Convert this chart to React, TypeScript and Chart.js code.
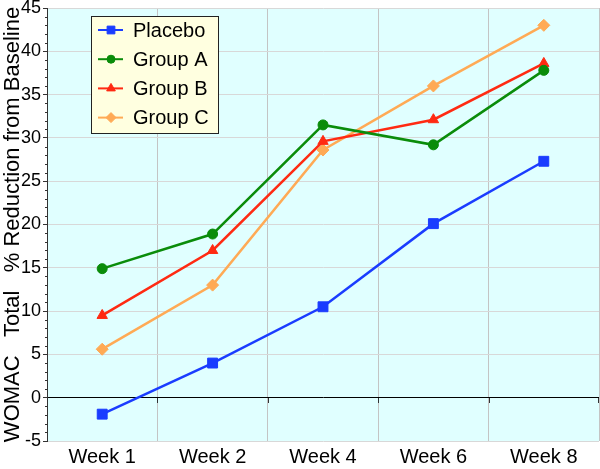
import React, { useEffect, useRef } from "react";
import { Chart, registerables } from "chart.js";
import { drawPoint } from "chart.js/helpers";
Chart.register(...registerables);

const categories = ["Week 1", "Week 2", "Week 4", "Week 6", "Week 8"];
const seriesNames = ["Placebo", "Group A", "Group B", "Group C"];
const placebo = [-1.9, 4.0, 10.5, 20.1, 27.3];
const groupA = [14.9, 18.9, 31.5, 29.2, 37.8];
const groupB = [9.5, 17.0, 29.6, 32.1, 38.6];
const groupC = [5.6, 13.0, 28.6, 36.0, 43.0];
const yTitle = "WOMAC   Total   % Reduction from Baseline";
const yMin = -5;
const yMax = 45;
const yStep = 5;

const colors = ["#1a3cff", "#0a8c0a", "#ff2a12", "#ffaa55"];
const pointStyles = ["rect", "circle", "triangle", "rectRot"];
const pointRadii = [7, 5, 6, 6];
const legendRadii = [5.5, 4, 5, 5];
const FONT = "'Liberation Sans', Arial, Helvetica, sans-serif";

const decorPlugin = {
  id: "decor",
  beforeDraw(chart: any) {
    const { ctx, chartArea: a } = chart;
    ctx.save();
    ctx.fillStyle = "#e0ffff";
    ctx.fillRect(a.left, a.top, a.right - a.left, a.bottom - a.top);
    ctx.restore();
  },
  afterDraw(chart: any) {
    const { ctx, chartArea: a, scales } = chart;
    const y = scales.y;
    const x = scales.x;
    ctx.save();
    // minor ticks on y axis
    ctx.strokeStyle = "#333";
    ctx.lineWidth = 1;
    for (let v = yMin; v <= yMax; v += 1) {
      if (v % yStep === 0) continue;
      const py = Math.round(y.getPixelForValue(v)) + 0.5;
      ctx.beginPath();
      ctx.moveTo(a.left - 2, py);
      ctx.lineTo(a.left, py);
      ctx.stroke();
    }
    // tick marks on zero line at category boundaries
    const zy = Math.round(y.getPixelForValue(0));
    const n = categories.length;
    for (let i = 1; i <= n; i++) {
      const px = Math.round((x.getPixelForValue(i - 1) + x.getPixelForValue(i)) / 2);
      const bx = i === n ? Math.round(a.right) - 0.5 : px + 0.5;
      ctx.beginPath();
      ctx.moveTo(bx, zy);
      ctx.lineTo(bx, zy + 5);
      ctx.stroke();
    }
    // legend box
    const x0 = a.left + 44;
    const y0 = a.top + 8;
    const w = 128;
    const h = 118;
    ctx.fillStyle = "#ffffe0";
    ctx.fillRect(x0, y0, w, h);
    ctx.strokeStyle = "#222";
    ctx.strokeRect(x0 + 0.5, y0 + 0.5, w - 1, h - 1);
    chart.data.datasets.forEach((ds: any, i: number) => {
      const ly = y0 + 14 + i * 29.2;
      ctx.strokeStyle = ds.borderColor;
      ctx.fillStyle = ds.backgroundColor;
      ctx.lineWidth = 2;
      ctx.beginPath();
      ctx.moveTo(x0 + 7, ly);
      ctx.lineTo(x0 + 32, ly);
      ctx.stroke();
      ctx.lineWidth = 1;
      drawPoint(ctx, { pointStyle: ds.pointStyle, radius: legendRadii[i], rotation: 0, borderWidth: 1 }, x0 + 20, ly);
      ctx.fillStyle = "#000";
      ctx.font = `20px ${FONT}`;
      ctx.textBaseline = "middle";
      ctx.textAlign = "left";
      ctx.fillText(ds.label, x0 + 42, ly + 1);
    });
    ctx.restore();
  },
};

export default function App() {
  const ref = useRef<HTMLCanvasElement | null>(null);
  useEffect(() => {
    document.body.style.margin = "0";
    const seriesData = [placebo, groupA, groupB, groupC];
    const chart = new Chart(ref.current as HTMLCanvasElement, {
      type: "line",
      data: {
        labels: categories,
        datasets: seriesNames.map((name, i) => ({
          label: name,
          data: seriesData[i],
          borderColor: colors[i],
          backgroundColor: colors[i],
          borderWidth: 2.5,
          pointStyle: pointStyles[i] as any,
          pointRadius: pointRadii[i],
          pointBorderWidth: 1,
          tension: 0,
        })),
      },
      options: {
        responsive: false,
        animation: false,
        layout: { autoPadding: false, padding: { top: 8, right: 1, left: 0, bottom: 0 } },
        plugins: { legend: { display: false }, tooltip: { enabled: false } },
        scales: {
          x: {
            offset: true,
            grid: { offset: true, color: "#c4c4c4", drawTicks: false, lineWidth: 1 },
            border: { display: false },
            ticks: { color: "#000", font: { family: FONT, size: 20 }, padding: 4 },
            afterFit: (s: any) => {
              s.height = 28;
              s.paddingLeft = 0;
              s.paddingRight = 0;
            },
          },
          y: {
            min: yMin,
            max: yMax,
            ticks: { stepSize: yStep, color: "#000", font: { family: FONT, size: 18 }, padding: 2 },
            grid: {
              color: (c: any) => (c.tick && c.tick.value === 0 ? "#000" : "#d8d8d8"),
              tickColor: "#333",
              tickLength: 4,
            },
            border: { color: "#333" },
            title: { display: true, text: yTitle, color: "#000", font: { family: FONT, size: 22 }, padding: 0 },
            afterFit: (s: any) => {
              s.width = 47;
              s.paddingTop = 0;
              s.paddingBottom = 0;
            },
          },
        },
      },
      plugins: [decorPlugin],
    });
    return () => chart.destroy();
  }, []);
  return (
    <div style={{ width: 600, height: 469 }}>
      <canvas ref={ref} width={600} height={469} style={{ display: "block" }} />
    </div>
  );
}
